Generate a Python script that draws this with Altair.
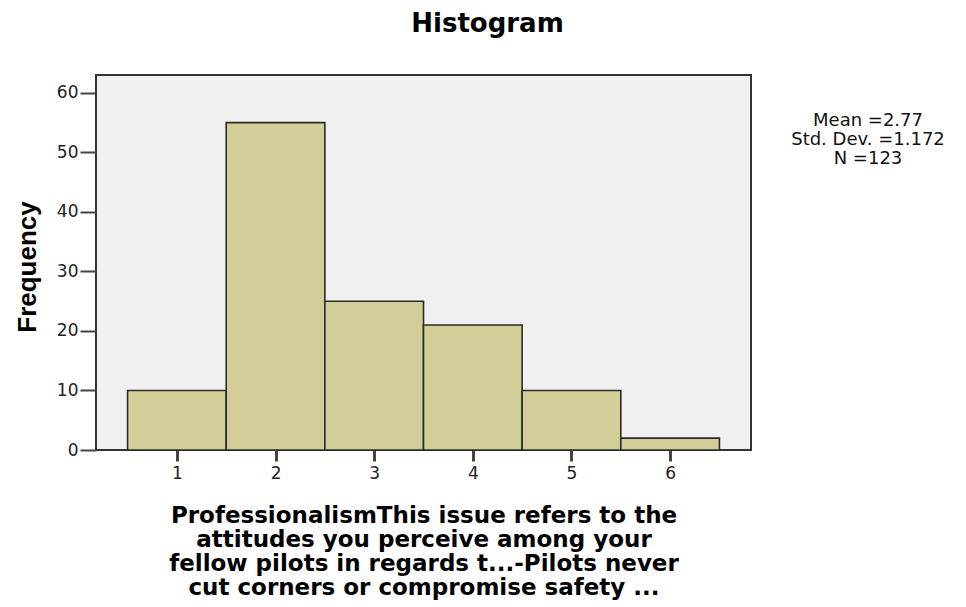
import altair as alt
import pandas as pd

values = [1, 2, 3, 4, 5, 6]
counts = [10, 55, 25, 21, 10, 2]
stats_lines = ["Mean =2.77", "Std. Dev. =1.172", "N =123"]
x_title = [
    "ProfessionalismThis issue refers to the",
    "attitudes you perceive among your",
    "fellow pilots in regards t...-Pilots never",
    "cut corners or compromise safety ...",
]
y_ticks = [0, 10, 20, 30, 40, 50, 60]

df = pd.DataFrame({
    "lo": [v - 0.5 for v in values],
    "hi": [v + 0.5 for v in values],
    "count": counts,
})

W, H = 655, 375

xscale = alt.Scale(domain=[0.18, 6.82], nice=False, zero=False)
yscale = alt.Scale(domain=[0, 63], nice=False)

bars = alt.Chart(df).mark_rect(
    fill="#D3CE97", stroke="#2b2b2b", strokeWidth=1.6
).encode(
    x=alt.X("lo:Q", scale=xscale,
            axis=alt.Axis(values=values, title=x_title, format="d",
                          titleFont="DejaVu Sans", titleFontSize=23,
                          titleFontWeight="bold", titleColor="#000",
                          titleX=327.5, titleY=72, titleAlign="center",
                          titleBaseline="alphabetic", titleLineHeight=24.3,
                          tickSize=11, tickWidth=3, labelPadding=4)),
    x2="hi:Q",
    y=alt.Y("count:Q", scale=yscale,
            axis=alt.Axis(values=y_ticks, title="Frequency",
                          titleFont="Liberation Sans", titleFontSize=26,
                          titleFontWeight="bold", titleColor="#000",
                          titleAngle=270, titleX=-61, titleY=191.5,
                          titleAlign="center", titleBaseline="alphabetic",
                          tickSize=16, tickWidth=2, labelPadding=2)),
    y2=alt.datum(0),
)

title = alt.Chart(pd.DataFrame({"t": ["Histogram"]})).mark_text(
    font="DejaVu Sans", fontSize=26, fontWeight="bold", color="#000",
    baseline="alphabetic", align="center"
).encode(text="t:N", x=alt.value(391.5), y=alt.value(-43))

stats = alt.Chart(pd.DataFrame({"t": ["\n".join(stats_lines)]})).mark_text(
    font="DejaVu Sans", fontSize=18, color="#111", lineBreak="\n",
    lineHeight=19, baseline="alphabetic", align="center"
).encode(text="t:N", x=alt.value(772), y=alt.value(51))

chart = alt.layer(bars, title, stats).properties(
    width=W, height=H,
    autosize=alt.AutoSizeParams(type="none"),
    padding={"left": 88, "top": 67, "right": 200, "bottom": 156},
).configure_view(
    stroke="#333333", strokeWidth=2, fill="#F0F0F0"
).configure_axis(
    domain=False, grid=False, tickColor="#444444",
    labelFont="DejaVu Sans", labelFontSize=17, labelColor="#222222",
)

chart.save("out.html", embed_options={"renderer": "svg", "actions": False})
